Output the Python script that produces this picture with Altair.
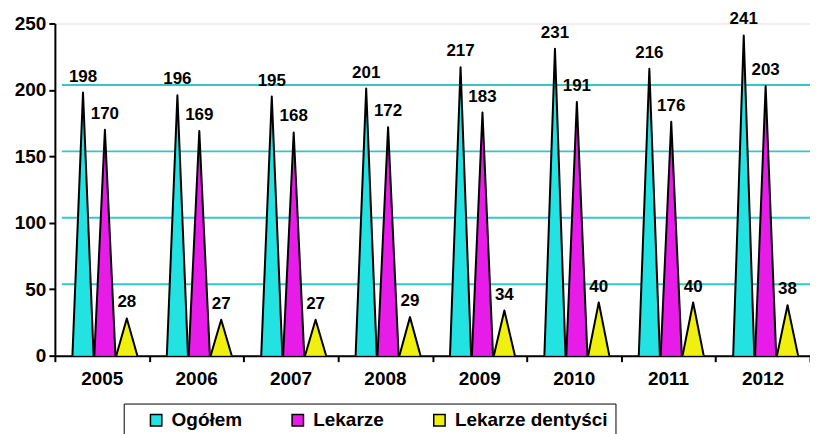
import json
import altair as alt
import pandas as pd

years = ["2005", "2006", "2007", "2008", "2009", "2010", "2011", "2012"]
series = ["Ogółem", "Lekarze", "Lekarze dentyści"]
ogolem = [198, 196, 195, 201, 217, 231, 216, 241]
lekarze = [170, 169, 168, 172, 183, 191, 176, 203]
dentysci = [28, 27, 27, 29, 34, 40, 40, 38]
colors = ["#22E2E2", "#E81CE8", "#F0F010"]
grid_values = [50, 100, 150, 200]

# layout of the cones inside a year slot (in category units)
SERIES_STEP = 0.232
SERIES_SHIFT = 0.03
HALF_BASE = 0.112

label_rows = []
cone_rows = []
for si, (s, vals) in enumerate(zip(series, [ogolem, lekarze, dentysci])):
    for yi, (y, v) in enumerate(zip(years, vals)):
        cx = yi + (si - 1) * SERIES_STEP + SERIES_SHIFT
        label_rows.append({"year": y, "series": s, "value": v, "cx": cx})
        for k in (-1, 0, 1):
            cone_rows.append({
                "series": s,
                "cone": y + "|" + s,
                "px": cx + k * HALF_BASE,
                "py": v if k == 0 else 0,
            })
labels_df = pd.DataFrame(label_rows)
cones_df = pd.DataFrame(cone_rows)

years_js = json.dumps(years)

FONT = "Liberation Sans, Arial, sans-serif"
NARROW = "Liberation Sans Narrow, Arial Narrow, Liberation Sans, sans-serif"

xscale = alt.Scale(domain=[-0.5, 7.5], nice=False, zero=False)
yscale = alt.Scale(domain=[0, 250], nice=False)
color = alt.Color(
    "series:N",
    scale=alt.Scale(domain=series, range=colors),
    legend=alt.Legend(
        title=None,
        orient="none",
        legendX=69,
        legendY=381,
        direction="horizontal",
        columns=3,
        symbolType="square",
        symbolSize=130,
        symbolStrokeColor="black",
        symbolStrokeWidth=1.5,
        symbolOpacity=1,
        symbolOffset=16,
        labelFont=FONT,
        labelFontWeight="bold",
        labelFontSize=19,
        labelColor="black",
        labelOffset=6,
        labelExpr="datum.label + '\u00a0\u00a0\u00a0\u00a0\u00a0\u00a0\u00a0'",
        columnPadding=30,
        padding=7,
        strokeColor="black",
        fillColor="white",
    ),
)

xaxis = alt.Axis(
    title=None,
    values=[-0.5 + i for i in range(9)],
    labelExpr=f"(datum.value + 0.5) < 8 ? {years_js}[round(datum.value + 0.5)] : ''",
    labelOffset=47,
    labelFlush=False,
    labelFont=FONT,
    labelFontWeight="bold",
    labelFontSize=19,
    labelColor="black",
    labelPadding=8,
    tickColor="black",
    tickWidth=2,
    tickSize=6,
    domainColor="black",
    domainWidth=2,
    grid=False,
)
yaxis = alt.Axis(
    title=None,
    values=[0, 50, 100, 150, 200, 250],
    labelFont=FONT,
    labelFontWeight="bold",
    labelFontSize=19,
    labelColor="black",
    labelPadding=3,
    tickColor="black",
    tickWidth=2,
    tickSize=6,
    domainColor="black",
    domainWidth=2,
    grid=False,
)

grid = alt.Chart(pd.DataFrame({"g": grid_values})).mark_rule(
    color="#33C8C8", strokeWidth=2, yOffset=-5
).encode(
    y=alt.Y("g:Q", scale=yscale, axis=yaxis),
    x=alt.value(7),
    x2=alt.value(757),
)

cones = alt.Chart(cones_df).mark_area(opacity=1).encode(
    x=alt.X("px:Q", scale=xscale, axis=xaxis),
    y=alt.Y("py:Q", scale=yscale, axis=yaxis, stack=None),
    color=color,
    detail="cone:N",
)

outlines = alt.Chart(cones_df).mark_line(
    color="black", strokeWidth=2, strokeJoin="round"
).encode(
    x=alt.X("px:Q", scale=xscale, axis=xaxis),
    y=alt.Y("py:Q", scale=yscale, axis=yaxis),
    detail="cone:N",
)

labels = alt.Chart(labels_df).mark_text(
    font=NARROW, fontWeight="bold", fontSize=17, color="black",
    baseline="alphabetic", dy=-11,
).encode(
    x=alt.X("cx:Q", scale=xscale, axis=xaxis),
    y=alt.Y("value:Q", scale=yscale, axis=yaxis),
    text="value:Q",
)

chart = alt.layer(grid, cones, outlines, labels).properties(
    width=757,
    height=333,
    autosize=alt.AutoSizeParams(type="none"),
    padding={"left": 47, "top": 15, "right": 0, "bottom": 78},
).configure_view(
    fill="#CCFFFF", stroke="#808080", strokeWidth=3
).configure_legend(
    strokeWidth=2
).configure(background="white")

chart.save("out.html", embed_options={"renderer": "svg", "actions": False})
